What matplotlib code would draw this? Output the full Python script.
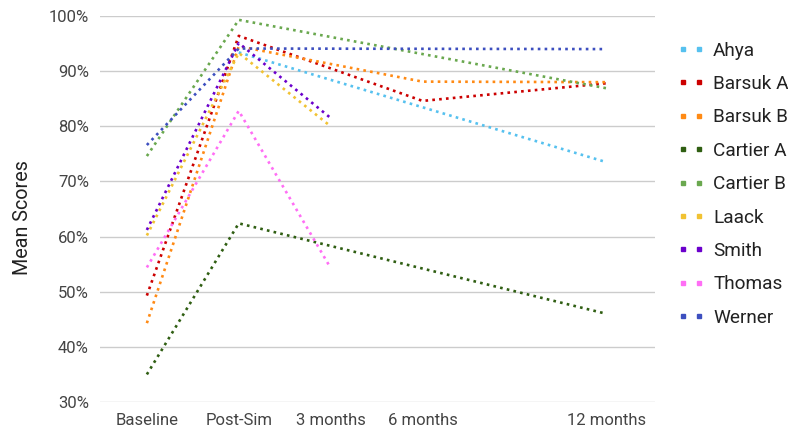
import numpy as np
import matplotlib
matplotlib.use("Agg")
import matplotlib.pyplot as plt
from matplotlib.lines import Line2D
from matplotlib.ticker import FuncFormatter

plt.rcParams['font.family'] = ['Roboto', 'DejaVu Sans']

# time points (6 -> 12 months gets a double step, like the original)
etiquetas = ['Baseline', 'Post-Sim', '3 months', '6 months', '12 months']
posiciones = [0, 1, 2, 3, 5]

nan = np.nan
nombres = ['Ahya', 'Barsuk A', 'Barsuk B', 'Cartier A', 'Cartier B',
           'Laack', 'Smith', 'Thomas', 'Werner']
colores = ['#56c1ef', '#cc0000', '#ff8a14', '#2f5e12', '#6aa84f',
           '#f1c232', '#6b00cc', '#ff6ef5', '#3d4fbf']

ahya = [nan, 93.4, nan, nan, 73.5]
barsuk_a = [49.3, 96.4, nan, 84.6, 87.8]
barsuk_b = [44.3, 94.5, nan, 88.1, 88.0]
cartier_a = [35.0, 62.4, nan, nan, 46.0]
cartier_b = [74.6, 99.3, nan, nan, 86.9]
laack = [60.2, 93.3, 80.0, nan, nan]
smith = [61.2, 95.1, 81.5, nan, nan]
thomas = [54.4, 82.8, 54.3, nan, nan]
werner = [76.6, 94.1, nan, nan, 94.0]

series = [ahya, barsuk_a, barsuk_b, cartier_a, cartier_b,
          laack, smith, thomas, werner]

fig = plt.figure(figsize=(7.88, 4.30), dpi=100)
ax = fig.add_axes([100 / 788, 1 - 402 / 430, 555 / 788, 386 / 430])

x = np.array(posiciones, dtype=float)
for nombre, valores, color in zip(nombres, series, colores):
    y = np.array(valores, dtype=float)
    ok = ~np.isnan(y)  # saltar los huecos, se unen los puntos que hay
    ax.plot(x[ok], y[ok], color=color, linewidth=1.9,
            linestyle=(0, (1, 1.6)), dash_capstyle='butt', label=nombre)

ax.set_xlim(-0.51, 5.53)
ax.set_ylim(30, 100)
ax.set_yticks(np.arange(30, 101, 10))
ax.yaxis.set_major_formatter(FuncFormatter(lambda v, p: f'{int(v)}%'))
ax.set_xticks(posiciones)
ax.set_xticklabels(etiquetas)
ax.grid(axis='y', color='#cccccc', linewidth=1)
ax.set_axisbelow(True)
for s in ax.spines.values():
    s.set_visible(False)
ax.tick_params(length=0, labelsize=12, colors='#444444', pad=8)
ax.set_ylabel('Mean Scores', fontsize=14.2, color='#222222', labelpad=12)
ax.yaxis.label.set_y(0.479)

handles = [Line2D([], [], color=c, marker='s', markersize=3.5,
                  linestyle='none') for c in colores]
fig.legend(handles, nombres, loc='upper left',
           bbox_to_anchor=(670 / 788, 1 - 34 / 430), frameon=False,
           numpoints=2, handlelength=1.4, handletextpad=0.47,
           labelspacing=0.81, fontsize=13.7, borderaxespad=0,
           labelcolor='#222222')

fig.savefig('out.png', dpi=100)
